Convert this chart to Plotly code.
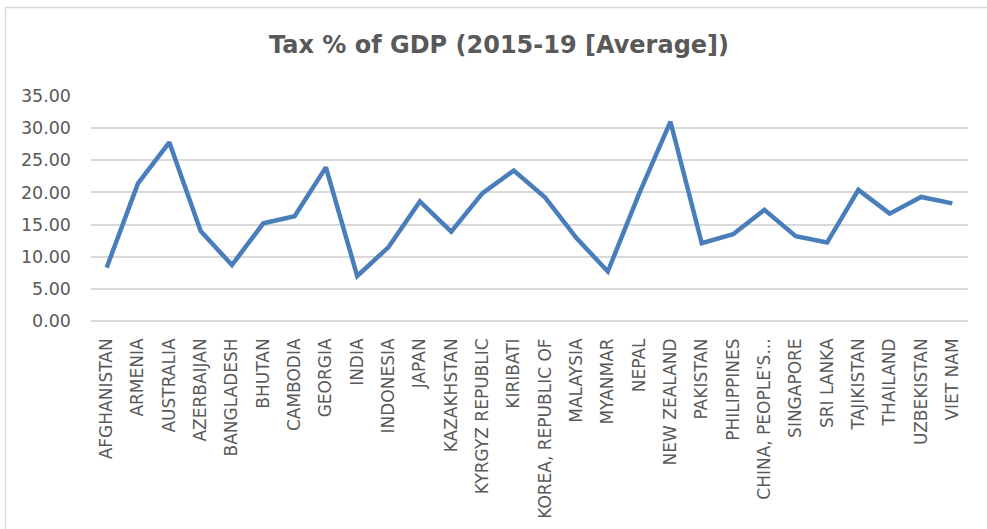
import plotly.graph_objects as go

countries = [
    "AFGHANISTAN", "ARMENIA", "AUSTRALIA", "AZERBAIJAN", "BANGLADESH",
    "BHUTAN", "CAMBODIA", "GEORGIA", "INDIA", "INDONESIA", "JAPAN",
    "KAZAKHSTAN", "KYRGYZ REPUBLIC", "KIRIBATI", "KOREA, REPUBLIC OF",
    "MALAYSIA", "MYANMAR", "NEPAL", "NEW ZEALAND", "PAKISTAN",
    "PHILIPPINES", "CHINA, PEOPLE'S...", "SINGAPORE", "SRI LANKA",
    "TAJIKISTAN", "THAILAND", "UZBEKISTAN", "VIET NAM",
]
tax_pct_gdp = [
    8.3, 21.4, 27.8, 14.0, 8.7,
    15.2, 16.3, 23.9, 7.0, 11.5, 18.6,
    13.9, 19.9, 23.4, 19.2,
    12.9, 7.7, 19.8, 31.0, 12.1,
    13.5, 17.3, 13.2, 12.2,
    20.4, 16.7, 19.3, 18.3,
]
y_ticks = [0, 5, 10, 15, 20, 25, 30, 35]
y_tick_text = [f"{v:.2f}" for v in y_ticks]

W, H = 987, 529
L, R, T, B = 91, 19, 96, 208
pw, ph = W - L - R, H - T - B

def px_x(p):
    return (p - L) / pw

def px_y(p):
    return (H - B - p) / ph

grey = "#595959"
grid = "#d9d9d9"
font_family = "DejaVu Sans"

fig = go.Figure()
fig.add_trace(go.Scatter(
    x=countries, y=tax_pct_gdp, mode="lines",
    line=dict(color="#4a7ebb", width=4.5),
    hoverinfo="x+y",
))

fig.update_layout(
    width=W, height=H,
    margin=dict(l=L, r=R, t=T, b=B, pad=0, autoexpand=False),
    paper_bgcolor="white", plot_bgcolor="white",
    showlegend=False,
    font=dict(family=font_family, color=grey, size=17),
    title=dict(
        text="<b>Tax % of GDP (2015-19 [Average])</b>",
        x=499 / W, xref="container", xanchor="center",
        y=1 - 45 / H, yref="container", yanchor="middle",
        font=dict(family=font_family, size=24, color=grey),
    ),
    xaxis=dict(
        type="category", range=[-0.5, len(countries) - 0.5],
        tickangle=-90, showgrid=False, showline=False, zeroline=False,
        ticks="", ticklabelstandoff=13, automargin=False,
        tickfont=dict(family=font_family, size=17, color=grey),
    ),
    yaxis=dict(
        range=[0, 35], tickvals=y_ticks, ticktext=y_tick_text,
        showgrid=True, gridcolor=grid, gridwidth=1.5,
        zeroline=True, zerolinecolor=grid, zerolinewidth=1.5,
        showline=False, ticks="", ticklabelstandoff=19, automargin=False,
        tickfont=dict(family=font_family, size=17.5, color=grey),
    ),
    shapes=[dict(
        type="rect", xref="paper", yref="paper",
        x0=px_x(5.5), x1=px_x(1000), y0=px_y(540), y1=px_y(7.5),
        line=dict(color=grid, width=1.5), fillcolor="rgba(0,0,0,0)",
        layer="below",
    )],
)

fig.write_html(
    "out.html",
    config={"displayModeBar": False},
    post_script="document.body.style.margin='0';document.body.style.overflow='hidden';",
)
